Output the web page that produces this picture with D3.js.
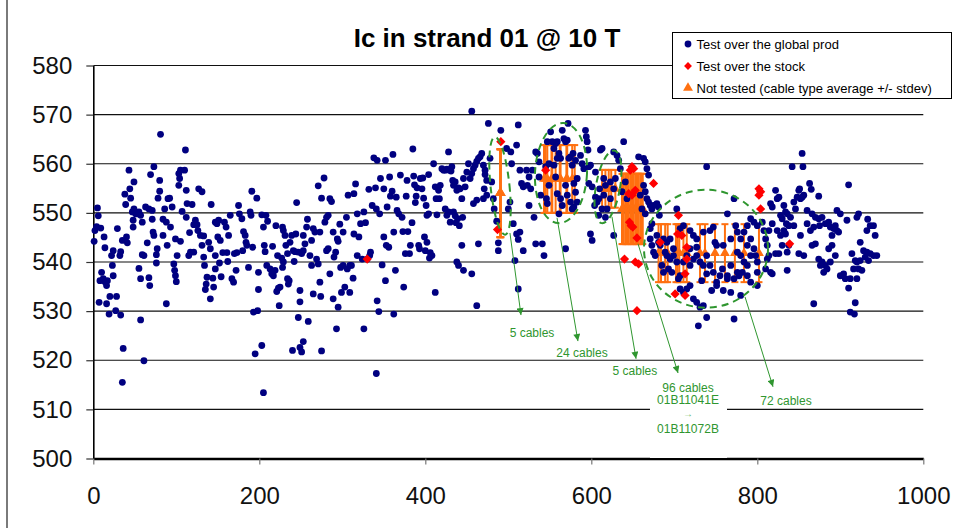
<!DOCTYPE html>
<html>
<head>
<meta charset="utf-8">
<script src="https://cdn.jsdelivr.net/npm/d3@7"></script>
<style>
  body { margin: 0; background: #fff; }
  svg { display: block; }
  text { font-family: "Liberation Sans", Arial, Helvetica, sans-serif; }
</style>
</head>
<body>
<svg id="chart" width="954" height="528"></svg>
<script>
// ---- Ic (A) of strand 01 at 10 T, per cable index ----
const chartTitle = "Ic in strand 01 @ 10 T";
const xTicks = [0, 200, 400, 600, 800, 1000];
const yTicks = [500, 510, 520, 530, 540, 550, 560, 570, 580];

// Cables tested over the global production, cable index 0-200
const prodA = [[5,551],[6,549.4],[1,544.2],[2,546.4],[4,547.2],[9,546.9],[13,545.1],[14,542.9],[8,536.2],[10,537.9],[12,536.6],[14,536],[16,535.2],[17,536.2],[7,531.8],[16,531.5],[19,529.4],[20,533],[23,539.3],[22,541.3],[24,542.3],[24,537.2],[28,533],[27,530.1],[29,546.8],[33,542.1],[32,541.3],[33,529.2],[36,522.4],[35,515.5],[35,544.4],[39,551.7],[38,553.8],[40,545.1],[41,543.9],[43,558.7],[44,554.9],[45,553],[49,556.3],[47,550.2],[49,550.8],[51,549.8],[48,548.5],[48,547.1],[53,549.8],[55,550.2],[57,549.5],[59,548.1],[55,538.7],[57,536.6],[57,528.2],[59,541.5],[61,541.3],[61,519.9],[65,543.9],[67,536.8],[68,535.2],[63,551.2],[67,550.8],[71,550.5],[69,557.8],[73,559.4],[71,548.7],[72,546.1],[73,545.4],[76,541.5],[77,542.7],[76,539.8],[78,553],[80,554.4],[81,566],[80,556.6],[84,545.4],[86,550.8],[84,548.7],[88,548.1],[89,543.4],[90,552.9],[92,553],[93,547.1],[95,551.2],[88,531.5],[97,539.6],[98,538.3],[99,537.2],[100,536],[99,544.7],[105,544.2],[101,541.3],[103,558],[104,557],[105,558.7],[103,555.6],[107,550.3],[110,558.7],[111,562.8],[112,554.6],[113,551.9],[112,549.1],[115,541.3],[117,542],[116,546],[119,551.7],[121,547.6],[121,542],[123,548.5],[125,547.6],[127,554.9],[131,554.3],[126,546.4],[129,545.4],[131,543.4],[133,545.3],[133,541],[134,539.3],[137,536.9],[136,535.5],[135,534.4],[142,551.7],[139,544],[141,542.7],[141,532.5],[144,536.7],[145,534.9],[147,541.3],[147,538.6],[147,548.1],[149,547.8],[151,548.5],[150,545.1],[153,544.4],[152,539.8],[154,537],[156,541.9],[158,548.1],[160,547.1],[161,541.9],[162,540.1],[163,545.4],[165,549.5],[167,536.6],[169,535.9],[170,541.7],[172,538.3],[173,541.9],[175,551.5],[176,549.8],[179,548.8],[180,542.3],[181,546.2],[183,545.4],[184,544],[185,543.4],[187,538.9],[189,550.2],[190,549.5],[191,554.4],[192,543],[193,529.8],[195,521.3],[197,553],[199,537.9],[199,534.4]];

// cable index 200-405
const prodB = [[198,530.1],[203,523],[205,513.4],[203,549.6],[205,547.1],[208,549.5],[206,543.4],[207,542.1],[210,548.3],[209,539.3],[213,538.6],[215,537.6],[217,537.2],[219,538.3],[216,543.2],[220,547.4],[222,541.3],[223,534.7],[221,534],[225,534.9],[224,531.1],[228,547.1],[229,546.4],[231,545.4],[232,543.4],[234,541.7],[227,540.8],[229,540],[228,538.9],[234,536.6],[235,535.5],[236,536.2],[237,544],[239,545.4],[241,542.3],[243,542.1],[244,545.7],[245,552.1],[242,540.1],[247,542],[249,534.2],[249,531.9],[251,541.7],[253,545.4],[255,543.7],[257,547.1],[258,548.7],[253,542.3],[247,528.7],[259,527.9],[253,523.8],[249,522.6],[251,521.7],[240,522],[261,541.3],[263,539.3],[265,546.8],[267,546.1],[263,544.4],[265,533.5],[269,540.6],[271,539.6],[273,535.9],[274,533],[273,546.1],[275,553],[271,555.5],[278,557.1],[279,548.1],[281,549.1],[283,549.5],[285,552.9],[287,552.3],[281,542.3],[283,542.7],[275,521.9],[285,537.6],[289,546.1],[290,541],[292,542],[293,526.4],[289,532.5],[294,544.7],[295,544.2],[297,547.7],[298,538.9],[301,546.1],[301,539.3],[303,534.9],[306,538.6],[307,553.6],[309,539.3],[309,533.8],[295,530.8],[299,533.8],[305,549.1],[311,539.3],[313,536.7],[314,545.7],[316,555.9],[314,553.9],[318,541.3],[318,549.8],[320,545.1],[322,547.8],[324,540.6],[326,550.2],[328,548],[326,526.4],[330,540.6],[332,554.8],[333,541.3],[334,542],[336,551.5],[338,561.2],[340,555.1],[341,550.8],[342,560.7],[342,532.1],[344,529.9],[345,549.8],[346,557],[348,539.4],[350,545.1],[350,554.9],[352,560.7],[353,543.4],[352,536.2],[354,551.2],[356,543],[357,557.3],[358,553.4],[360,554.4],[361,561.9],[362,546.1],[362,529.4],[364,538.3],[365,553.2],[366,550.5],[368,549.8],[370,557.7],[372,549.1],[373,546.2],[374,534.9],[376,541.7],[377,553.4],[378,556.6],[379,546.2],[381,541.7],[382,543.4],[384,548],[385,563],[386,557.5],[387,555.7],[388,552.1],[389,553.4],[390,555.1],[392,543.4],[393,542.7],[394,557],[396,554.9],[397,557.1],[398,553],[399,545.1],[400,542.3],[401,551.5],[402,544],[404,557.8],[405,540.8],[402,549.5],[341,517.3]];

// cable index 405-612
const prodC = [[406,541.9],[404,549.8],[408,541.3],[410,560],[412,555.3],[413,552.9],[414,549.6],[416,554.6],[417,552.9],[418,555.6],[420,559],[422,558.7],[424,558.7],[426,558.9],[428,562.4],[429,558.7],[431,558.5],[432,559.4],[433,556.6],[424,550.8],[426,549.5],[428,550.2],[430,548.1],[434,550.2],[436,549.4],[437,548],[439,548.8],[441,547.4],[445,549.1],[434,555.6],[436,556.3],[438,554.6],[440,555.1],[442,554.9],[444,552.9],[446,557],[448,555.3],[450,558.3],[452,560],[454,557],[456,558],[458,559],[460,559.7],[462,560.5],[464,561.1],[466,561.4],[468,562.1],[470,559.7],[472,558.7],[472,557.8],[474,556.6],[470,552.9],[471,554.9],[474,553.6],[462,552.6],[458,551.9],[464,543.7],[412,533.8],[444,543.4],[438,540],[440,539.3],[446,538.3],[456,537.6],[462,531.1],[478,561.1],[480,556.3],[482,552.9],[483,550.8],[476,568.2],[456,570.7],[486,548.3],[488,543.9],[488,542.3],[491,566.8],[498,563.1],[500,550.8],[502,552.2],[503,562.4],[504,560],[506,547.8],[508,540.3],[510,563.8],[512,567.9],[510,545.7],[512,544.6],[514,546.1],[512,534.5],[514,558.7],[516,556],[518,555.3],[522,558.7],[523,555.6],[525,557.3],[527,554.9],[529,558.7],[518,542.3],[525,551.5],[533,562.4],[535,562.1],[531,549.1],[533,543.7],[537,560.4],[537,557.3],[539,553.6],[541,543.7],[543,541.3],[546,552.9],[547,564.5],[549,560],[551,566.5],[553,564.5],[555,563.1],[557,564.1],[559,564.5],[555,559.7],[559,561.1],[561,562.1],[563,561.1],[565,566.8],[567,565.1],[569,564.5],[571,564.8],[572,568.2],[573,561.1],[575,561.4],[577,559.7],[578,562.1],[581,560.7],[583,557],[587,561.7],[589,560],[591,559],[593,566.8],[594,565.5],[595,564.5],[596,562.8],[597,559.4],[599,559.7],[601,555.3],[597,556],[599,545.7],[601,544.4],[605,553.2],[607,552.2],[609,552.9],[610,554.9],[611,562.8],[559,553.9],[563,552.9],[565,551.5],[569,555.6],[571,553.6],[575,552.2],[577,550.8],[579,551.2],[581,554.2],[583,552.2],[547,551.9],[549,555.6],[557,557.3],[579,556],[561,549.8],[545,559.4],[569,542.7]];

// cable index 600-803
const prodD = [[613,563.1],[605,558.3],[604,551.5],[609,549.5],[613,550.8],[617,549.1],[619,550.8],[623,552.9],[627,562.4],[631,561.7],[633,560.7],[635,559],[637,554.3],[639,564.5],[629,557],[627,554.9],[623,556.3],[617,555.6],[615,557],[615,553.6],[627,545.4],[641,556.3],[643,552.9],[657,561.4],[663,561.1],[665,560.4],[667,559],[669,557.7],[663,555.6],[665,554.3],[667,552.9],[669,552.2],[659,553.6],[661,550.8],[665,549.8],[671,551.5],[673,550.8],[675,551.5],[679,551.9],[681,551.2],[682,549.5],[673,547.8],[671,546.8],[671,544.7],[673,543.4],[675,542],[677,541.3],[679,545.4],[681,544],[683,543.4],[687,544.7],[689,542],[691,541.3],[695,544.7],[695,540.6],[685,539.3],[687,537.9],[693,538.6],[703,550.8],[707,546.8],[711,547.4],[719,546.4],[723,545.4],[727,544.7],[735,546.1],[739,559.4],[743,546.4],[747,547.1],[749,544],[751,543.4],[759,543.4],[764,549.8],[768,544.7],[772,552.9],[774,547.4],[776,546.1],[780,544.7],[784,546.1],[788,547.4],[792,548.8],[796,548.1],[800,547.4],[788,543.4],[792,544.7],[796,542.7],[798,541.3],[800,540],[776,542],[780,541.3],[784,540],[788,539.3],[782,537.9],[778,537.2],[772,536.6],[768,539.3],[764,537.2],[758,538.6],[751,535.9],[747,537.9],[743,539.3],[739,541.3],[735,539.3],[731,540],[727,541.3],[723,540.6],[719,539.3],[715,541.3],[711,540],[707,537.2],[703,540],[699,541.3],[697,537.9],[705,536.6],[707,534.5],[711,533.8],[715,534.5],[719,535.2],[723,532.5],[727,531.8],[731,530.8],[735,531.1],[739,528.7],[729,527],[745,534.2],[751,535.2],[755,537.2],[759,534.2],[764,536.6],[768,533.8],[772,528.4],[780,533.2],[792,535.9],[800,535.2],[792,541.3],[800,537.9],[776,537.9],[788,537.2],[739,537.6],[733,536.2],[719,542.7],[727,543],[699,542.7],[691,544]];

// cable index 804-945
const prodE = [[806,548.1],[808,546.4],[810,544.7],[812,543.4],[814,541.3],[816,537.9],[818,537.6],[812,540.6],[816,551.9],[818,551.2],[822,554.6],[824,552.9],[826,553.2],[828,549.5],[830,548.8],[832,551.5],[834,550.2],[836,549.8],[835,547.8],[838,547.4],[840,549.1],[844,547.4],[846,550.8],[844,552.2],[848,553.2],[850,554.6],[852,552.9],[854,553.2],[856,553.6],[851,554.9],[854,562.1],[842,559.4],[855,559.4],[863,556],[865,554.8],[874,553.4],[860,550.5],[866,549.8],[870,549.1],[874,548.8],[878,549.1],[860,547.8],[864,546.4],[868,547.1],[875,547.4],[882,547.8],[886,548.1],[888,547.1],[892,546.8],[894,547.4],[896,546.4],[898,546.1],[890,545.4],[900,549.8],[896,550.5],[908,548.5],[910,555.7],[922,549.8],[920,549.1],[933,548.7],[936,547.4],[940,547.4],[942,545.4],[932,546.4],[924,544],[928,542.3],[932,542],[936,541.7],[940,541.3],[944,541.3],[930,541],[934,540.3],[924,540.3],[828,545.4],[834,545.7],[830,543.4],[836,542],[826,541.7],[822,541.7],[838,543.4],[832,546.4],[852,545.4],[850,541.7],[856,541.3],[866,543.4],[870,543.7],[874,540.6],[878,540],[882,539.3],[876,539.3],[880,537.9],[884,538.6],[888,540],[890,543.4],[886,542.7],[894,541.3],[900,537.2],[904,537.6],[906,536.6],[912,536.6],[914,541.7],[918,540.3],[920,540],[916,538.6],[922,538.6],[926,538.3],[920,536.6],[910,534.7],[868,531.5],[912,529.8],[918,531.7],[917,529.4],[836,538.3],[818,547.8],[824,546.4],[810,538.6],[814,546.4]];

// Cables tested over the stock
const stock = [[330,540.6],[491,564.5],[487,546.6],[545,558.7],[649,559.4],[651,559],[647,558.7],[675,556],[645,553.9],[649,553.6],[653,554.6],[655,544.9],[648,547.4],[650,547.1],[646,548.1],[640,540.6],[653,540],[657,539.6],[655,530.1],[705,549.5],[683,544],[704,545.7],[709,545.4],[715,543],[715,540.6],[713,537.6],[701,533.5],[713,533.2],[802,554.9],[804,554.3],[802,553.6],[804,550.8],[839,543.7]];

// Not tested cables: cable type average +/- stdev, one group per cable type
const typeMean  = [554.0, 556.9, 554.9, 550.8, 541.8];
const typeStdev = [8.95, 6.9, 3.85, 7.15, 5.9];
const notTestedIdx = [
  [490, 490, 490, 491, 491],
  [543, 545, 547, 552, 553, 557, 562, 563, 570, 571, 577, 580],
  [613, 617, 621, 624, 629],
  [637, 638, 639, 641, 642, 644, 645, 647, 648, 650, 651, 653, 654, 656, 657, 659, 660, 662],
  [681, 684, 689, 692, 702, 704, 706, 711, 715, 731, 737, 749, 761, 773, 784, 802]
];

const legendLabels = ["Test over the global prod", "Test over the stock", "Not tested (cable type average +/- stdev)"];
const calloutLabels = [["5 cables"], ["24 cables"], ["5 cables"], ["96 cables", "01B11041E", "\u2192", "01B11072B"], ["72 cables"]];

// ---- colours ----
const C_PROD = "#000080", C_STOCK = "#ff0000", C_NT = "#ff7010", C_NOTE = "#2f962f";

const svg = d3.select("#chart");
const x = d3.scaleLinear().domain([0, 1000]).range([93.3, 923.3]);
const y = d3.scaleLinear().domain([500, 580]).range([458.5, 65.5]);

// outer frame edge
svg.append("line").attr("x1", 7).attr("x2", 7).attr("y1", 0).attr("y2", 528)
  .attr("stroke", "#7a7a7a").attr("stroke-width", 2);

// horizontal gridlines
svg.append("g").selectAll("line").data(yTicks.filter(v => v > 500)).join("line")
  .attr("x1", x(0)).attr("x2", x(1000))
  .attr("y1", d => y(d)).attr("y2", d => y(d))
  .attr("stroke", "#111").attr("stroke-width", 1.2);

// axes
const gy = svg.append("g").attr("transform", `translate(${x(0)},0)`)
  .call(d3.axisLeft(y).tickValues(yTicks).tickSize(7).tickSizeOuter(0).tickPadding(14).tickFormat(d3.format("d")));
gy.select(".domain").attr("stroke", "#000").attr("stroke-width", 1.6);
gy.selectAll(".tick line").attr("stroke", "#333").attr("stroke-width", 1.2);
gy.selectAll(".tick text").attr("font-size", 24).attr("fill", "#111")
  .attr("font-family", '"Liberation Sans", Arial, sans-serif');

const gx = svg.append("g").attr("transform", `translate(0,${y(500)})`)
  .call(d3.axisBottom(x).tickValues(xTicks).tickSize(6).tickSizeOuter(0).tickPadding(22).tickFormat(d3.format("d")));
gx.select(".domain").attr("stroke", "#000").attr("stroke-width", 2.4);
gx.selectAll(".tick line").attr("stroke", "#777").attr("stroke-width", 1.2);
gx.selectAll(".tick text").attr("font-size", 24).attr("fill", "#111")
  .attr("font-family", '"Liberation Sans", Arial, sans-serif');

// not tested: error bars with triangle at type average
const notTested = notTestedIdx.flatMap((idx, g) => idx.map(i => ({ i, m: typeMean[g], s: typeStdev[g] })));
const gNT = svg.append("g").attr("stroke", C_NT).attr("stroke-width", 2);
gNT.selectAll("line.bar").data(notTested).join("line").attr("class", "bar")
  .attr("x1", d => x(d.i)).attr("x2", d => x(d.i))
  .attr("y1", d => y(d.m + d.s)).attr("y2", d => y(d.m - d.s));
gNT.selectAll("line.capT").data(notTested).join("line").attr("class", "capT")
  .attr("x1", d => x(d.i) - 3.5).attr("x2", d => x(d.i) + 3.5)
  .attr("y1", d => y(d.m + d.s)).attr("y2", d => y(d.m + d.s));
gNT.selectAll("line.capB").data(notTested).join("line").attr("class", "capB")
  .attr("x1", d => x(d.i) - 3.5).attr("x2", d => x(d.i) + 3.5)
  .attr("y1", d => y(d.m - d.s)).attr("y2", d => y(d.m - d.s));
const tri = d3.symbol().type(d3.symbolTriangle).size(42);
svg.append("g").selectAll("path").data(notTested).join("path")
  .attr("d", tri).attr("fill", C_NT)
  .attr("transform", d => `translate(${x(d.i)},${y(d.m)})`);

// tested over global production
const prod = [...prodA, ...prodB, ...prodC, ...prodD, ...prodE];
svg.append("g").selectAll("circle").data(prod).join("circle")
  .attr("cx", d => x(d[0])).attr("cy", d => y(d[1])).attr("r", 3.4).attr("fill", C_PROD);

// tested over the stock
const diamond = "M0,-4.6L4.6,0L0,4.6L-4.6,0Z";
svg.append("g").selectAll("path").data(stock).join("path")
  .attr("d", diamond).attr("fill", C_STOCK)
  .attr("transform", d => `translate(${x(d[0])},${y(d[1])})`);

// ---- callouts: dashed ellipses around each cable-type group, arrows and counts ----
const defs = svg.append("defs");
defs.append("marker").attr("id", "head").attr("viewBox", "0 0 10 10")
  .attr("refX", 10).attr("refY", 5).attr("markerWidth", 8).attr("markerHeight", 7)
  .attr("markerUnits", "userSpaceOnUse").attr("orient", "auto")
  .append("path").attr("d", "M0,0L10,5L0,10Z").attr("fill", C_NOTE);

const ellipses = [
  { cx: 490.0, cy: 555.5, rx: 11.4, ry: 10.0, rot: -6 },
  { cx: 563.5, cy: 558.1, rx: 31.3, ry: 10.2, rot: 3 },
  { cx: 620.1, cy: 555.3, rx: 14.5, ry: 7.5, rot: 10 },
  { cx: 738.2, cy: 542.7, rx: 74.7, ry: 12.0, rot: 0 }
];
svg.append("g").selectAll("ellipse").data(ellipses).join("ellipse")
  .attr("transform", d => `translate(${x(d.cx)},${y(d.cy)}) rotate(${d.rot})`)
  .attr("rx", d => x(d.rx) - x(0)).attr("ry", d => y(500) - y(500 + d.ry))
  .attr("fill", "none").attr("stroke", C_NOTE).attr("stroke-width", 2).attr("stroke-dasharray", "7,5");

// white backing behind the cable-range label
svg.append("rect").attr("x", x(670.7)).attr("y", y(515.6))
  .attr("width", x(763.5) - x(670.7)).attr("height", y(500.1) - y(515.6)).attr("fill", "#fff");

const arrows = [
  { from: [502.0, 545.9], to: [515.3, 529.2] },
  { from: [558.7, 549.0], to: [583.9, 523.9] },
  { from: [624.9, 549.2], to: [653.9, 520.3] },
  { from: [656.3, 543.7], to: [704.5, 517.4] },
  { from: [785.2, 532.9], to: [818.9, 514.6] }
];
svg.append("g").selectAll("line").data(arrows).join("line")
  .attr("x1", d => x(d.from[0])).attr("y1", d => y(d.from[1]))
  .attr("x2", d => x(d.to[0])).attr("y2", d => y(d.to[1]))
  .attr("stroke", C_NOTE).attr("stroke-width", 1).attr("marker-end", "url(#head)");

const labelPos = [
  { x: 528.6, y: [525.6] },
  { x: 588.8, y: [521.5] },
  { x: 652.6, y: [517.8] },
  { x: 716.5, y: [514.4, 511.9, 509.1, 506.1] },
  { x: 834.6, y: [511.7] }
];
labelPos.forEach((p, k) => {
  calloutLabels[k].forEach((t, j) => {
    const isArrow = t === "\u2192";
    svg.append("text").attr("x", x(p.x)).attr("y", y(p.y[j])).attr("dy", "0.35em")
      .attr("text-anchor", "middle").attr("font-size", isArrow ? 10 : 12)
      .attr("font-family", isArrow ? '"DejaVu Sans", sans-serif' : null)
      .attr("fill", isArrow ? "#6cbc6c" : C_NOTE).text(t);
  });
});

// ---- legend ----
const lg = svg.append("g").attr("transform", "translate(672.5,32.5)");
lg.append("rect").attr("width", 279).attr("height", 66).attr("fill", "#fff")
  .attr("stroke", "#000").attr("stroke-width", 1);
const rowY = [11.5, 33.5, 55.5];
lg.append("circle").attr("cx", 15.5).attr("cy", rowY[0]).attr("r", 3.4).attr("fill", C_PROD);
lg.append("path").attr("d", diamond).attr("fill", C_STOCK).attr("transform", `translate(15.5,${rowY[1]}) scale(0.85)`);
lg.append("path").attr("d", tri).attr("fill", C_NT).attr("transform", `translate(15.5,${rowY[2]})`);
lg.selectAll("text").data(legendLabels).join("text")
  .attr("x", 24).attr("y", (d, i) => rowY[i]).attr("dy", "0.35em")
  .attr("font-size", 13).attr("fill", "#000").text(d => d);

// ---- title ----
svg.append("text").attr("x", 487).attr("y", 47).attr("text-anchor", "middle")
  .attr("font-size", 26).attr("font-weight", "bold").attr("fill", "#000").text(chartTitle);
</script>
</body>
</html>
